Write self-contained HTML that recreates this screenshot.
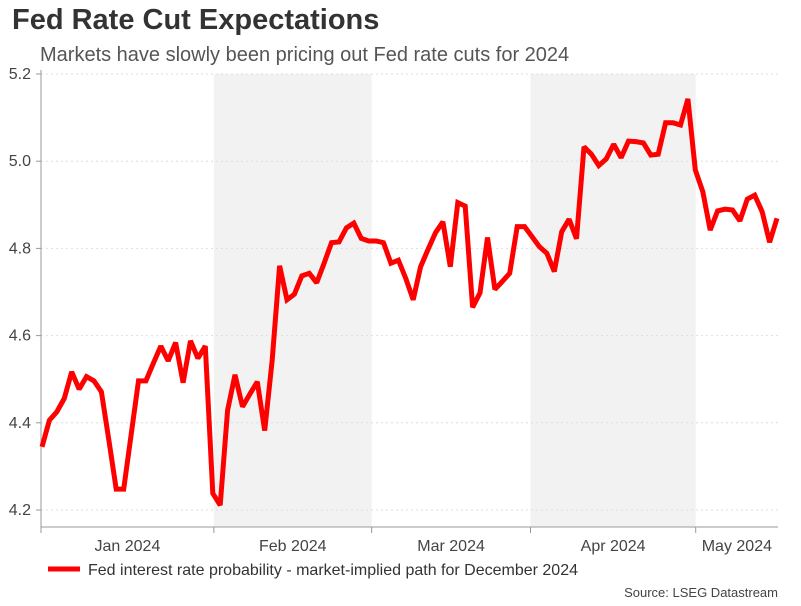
<!DOCTYPE html>
<html><head><meta charset="utf-8"><style>
body{margin:0;background:#fff;font-family:"Liberation Sans",sans-serif;}
svg text{font-family:"Liberation Sans",sans-serif;}
</style></head><body>
<svg width="801" height="601" xmlns="http://www.w3.org/2000/svg">
<text x="12" y="29" font-size="29" font-weight="bold" fill="#333">Fed Rate Cut Expectations</text>
<text x="40" y="61" font-size="20" fill="#555">Markets have slowly been pricing out Fed rate cuts for 2024</text>
<g id="bands"></g><g id="grid"></g><g id="yaxis"></g><g id="xaxis"></g><g id="series"></g>
<line x1="48" y1="569" x2="80" y2="569" stroke="#f00" stroke-width="5"/>
<text x="88" y="575" font-size="16" fill="#333">Fed interest rate probability - market-implied path for December 2024</text>
<text x="778" y="597" font-size="13" fill="#444" text-anchor="end">Source: LSEG Datastream</text>
</svg>
<script>
const yTicks=[4.2,4.4,4.6,4.8,5.0,5.2];
const yTickLabels=["4.2","4.4","4.6","4.8","5.0","5.2"];
const months=["Jan 2024","Feb 2024","Mar 2024","Apr 2024","May 2024"];
const monthStartIdx=[0,23.15,44.4,65.8,88.05];
const monthEndIdx=[23.15,44.4,65.8,88.05,99];
const values=[4.345,4.406,4.425,4.456,4.517,4.477,4.506,4.496,4.471,4.361,4.248,4.248,4.372,4.496,4.496,4.537,4.576,4.542,4.584,4.492,4.588,4.548,4.576,4.238,4.211,4.429,4.510,4.437,4.466,4.494,4.382,4.544,4.760,4.682,4.695,4.737,4.743,4.721,4.766,4.813,4.815,4.847,4.858,4.823,4.817,4.817,4.813,4.766,4.773,4.731,4.682,4.758,4.798,4.836,4.861,4.758,4.905,4.897,4.665,4.698,4.825,4.706,4.724,4.743,4.850,4.850,4.827,4.804,4.789,4.747,4.838,4.867,4.822,5.033,5.016,4.990,5.005,5.039,5.008,5.046,5.045,5.042,5.014,5.016,5.088,5.088,5.083,5.143,4.980,4.930,4.842,4.886,4.890,4.888,4.863,4.913,4.922,4.884,4.814,4.869];
const NS="http://www.w3.org/2000/svg";
const X0=42,X1=777,Y0=510,Y1=74;
const n=values.length;
function xs(i){return X0+(X1-X0)*i/(n-1);}
function ys(v){return Y0-(v-4.2)/(5.2-4.2)*(Y0-Y1);}
function mk(tag,attrs,parent){const e=document.createElementNS(NS,tag);for(const k in attrs)e.setAttribute(k,attrs[k]);document.getElementById(parent).appendChild(e);return e;}
months.forEach((m,i)=>{
  const a=i===0?41:xs(monthStartIdx[i]), b=i===months.length-1?778:xs(monthEndIdx[i]);
  if(i%2===1){const r=mk('rect',{x:a,y:Y1,width:b-a,height:Y0+17-Y1,fill:'#f2f2f2'},'bands');
  
  }
  const t=mk('text',{x:(a+b)/2,y:551,'font-size':16,fill:'#444','text-anchor':'middle'},'xaxis');t.textContent=m;
  
  
  if(i>0){const l=mk('line',{x1:a,x2:a,y1:527,y2:533,stroke:'#999'},'xaxis');
  
  }
});
const ax=mk('line',{x1:41,x2:778,y1:527,y2:527,stroke:'#999'},'xaxis');


const ay=mk('line',{x1:41,x2:41,y1:70,y2:533,stroke:'#999'},'yaxis');


yTicks.forEach((v,i)=>{
  const y=ys(v);
  const g=mk('line',{x1:41,x2:778,y1:y,y2:y,stroke:'#ddd','stroke-dasharray':'2,3'},'grid');
  
  
  const tk=mk('line',{x1:36,x2:41,y1:y,y2:y,stroke:'#999'},'yaxis');
  
  
  const t=mk('text',{x:31,y:y+5,'font-size':16,fill:'#444','text-anchor':'end'},'yaxis');t.textContent=yTickLabels[i];
  
  
});
const p=mk('polyline',{points:values.map((v,i)=>xs(i).toFixed(1)+','+ys(v).toFixed(1)).join(' '),fill:'none',stroke:'#f00','stroke-width':5,'stroke-linejoin':'miter','stroke-miterlimit':2},'series');


</script>
</body></html>
